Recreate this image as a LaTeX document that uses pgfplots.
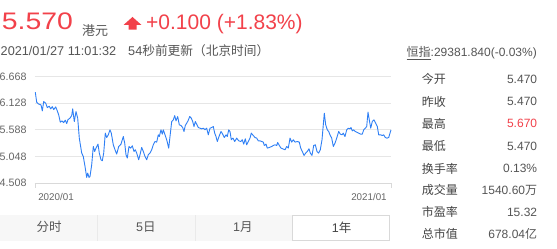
\documentclass[border=0pt]{standalone}
\usepackage{fontspec}
\setmainfont{Liberation Sans}
\newfontfamily\cjk{Noto Sans CJK SC}
\usepackage{graphicx}
\usepackage{pgfplots}
\pgfplotsset{compat=1.18}
\definecolor{upred}{HTML}{F2414A}
\definecolor{lineblue}{HTML}{2E7FF5}
\definecolor{txtgray}{HTML}{555555}
\definecolor{lblgray}{HTML}{444444}
\definecolor{tickgray}{HTML}{666666}
\definecolor{gridgray}{HTML}{E6E6E6}
\definecolor{axisgray}{HTML}{D9D9D9}
\definecolor{tabbg}{HTML}{F7F7F7}
\definecolor{tabline}{HTML}{EAEAEA}
\definecolor{tabborder}{HTML}{D9D9D9}
\begin{document}
\begin{tikzpicture}[x=1pt,y=1pt]
\path[use as bounding box, fill=white] (0,0) rectangle (557,249);
% header
\node[anchor=south west, inner sep=0, text=upred, font=\fontsize{24}{24}\selectfont] at (1.7,219) {\resizebox{71pt}{16.7pt}{5.570}};
\node[anchor=west, inner sep=0, text=txtgray, font=\cjk\fontsize{13}{13}\selectfont] at (82,218.5) {港元};
\fill[upred] (123.5,224) -- (132.5,232) -- (141.5,224) -- (136.5,224) -- (136.5,219.3) -- (128.5,219.3) -- (128.5,224) -- cycle;
\node[anchor=base west, inner sep=0, text=upred, font=\fontsize{21}{21}\selectfont] at (146,219) {+0.100 (+1.83\%)};
\node[anchor=base west, inner sep=0, text=txtgray, font=\fontsize{12.7}{13}\selectfont] at (0.5,193) {2021/01/27 11:01:32};
\node[anchor=base west, inner sep=0, text=txtgray, font=\fontsize{12.7}{13}\selectfont] at (128,193) {54{\cjk 秒前更新（北京时间）}};
\node[anchor=base east, inner sep=0, text=txtgray, font=\fontsize{12}{12}\selectfont] at (537,192) {\underline{\cjk 恒指}:29381.840(-0.03\%)};
% table
\foreach \lab/\val/\yy in {今开/5.470/169.7, 昨收/5.470/147.3, 最低/5.470/103, 换手率/0.13\%/80.5, 市盈率/15.32/37}{
  \node[anchor=west, inner sep=0, text=lblgray, font=\cjk\fontsize{12}{12}\selectfont] at (421.7,\yy) {\lab};
  \node[anchor=east, inner sep=0, text=txtgray, font=\fontsize{12}{12}\selectfont] at (537.3,\yy) {\val};
}
\node[anchor=west, inner sep=0, text=lblgray, font=\cjk\fontsize{12}{12}\selectfont] at (421.7,125.3) {最高};
\node[anchor=east, inner sep=0, text=upred, font=\fontsize{12}{12}\selectfont] at (537.3,125.3) {5.670};
\node[anchor=west, inner sep=0, text=lblgray, font=\cjk\fontsize{12}{12}\selectfont] at (421.7,58.8) {成交量};
\node[anchor=east, inner sep=0, text=txtgray, font=\fontsize{12}{12}\selectfont] at (537.3,58.8) {1540.60{\cjk 万}};
\node[anchor=west, inner sep=0, text=lblgray, font=\cjk\fontsize{12}{12}\selectfont] at (421.7,15) {总市值};
\node[anchor=east, inner sep=0, text=txtgray, font=\fontsize{12}{12}\selectfont] at (537.3,15) {678.04{\cjk 亿}};
% tabs
\fill[tabbg] (0,8.3) rectangle (292.7,34);
\draw[tabline, line width=0.8pt] (97.3,8.3) -- (97.3,34);
\draw[tabline, line width=0.8pt] (195,8.3) -- (195,34);
\draw[tabborder, fill=white, line width=0.8pt] (292.7,8.8) rectangle (389.3,33.6);
\node[text=txtgray, inner sep=0, font=\cjk\fontsize{12.5}{12.5}\selectfont] at (49.2,21.7) {分时};
\node[text=txtgray, inner sep=0, font=\fontsize{12.5}{12.5}\selectfont] at (145.8,21.7) {5{\cjk 日}};
\node[text=txtgray, inner sep=0, font=\fontsize{12.5}{12.5}\selectfont] at (242.8,21.7) {1{\cjk 月}};
\node[text=lblgray, inner sep=0, font=\fontsize{12.5}{12.5}\selectfont] at (341.7,21.7) {1{\cjk 年}};
% chart
\begin{axis}[
  at={(35pt,66pt)}, anchor=south west, scale only axis,
  width=356pt, height=106.3pt,
  xmin=35, xmax=391, ymin=4.508, ymax=6.668,
  ytick={4.508,5.048,5.588,6.128,6.668},
  yticklabels={4.508,5.048,5.588,6.128,6.668},
  ymajorgrids, grid style={draw=gridgray, line width=0.8pt},
  axis x line*=bottom, axis y line*=left,
  x axis line style={draw=axisgray, line width=0.8pt, -},
  y axis line style={draw=none},
  ytick style={draw=none},
  xtick={35,391},
  xticklabels={\makebox[0pt][l]{\hspace{3.3pt}2020/01},\makebox[0pt][r]{2021/01\hspace{4.3pt}}},
  xtick style={draw=axisgray, line width=0.8pt},
  major tick length=5pt, tick align=outside,
  xticklabel style={font=\fontsize{9.8}{10}\selectfont, text=tickgray, anchor=north, inner sep=0pt, yshift=-5pt},
  yticklabel style={font=\fontsize{10.7}{11}\selectfont, text=tickgray, anchor=east, inner sep=0pt, xshift=-3.3pt},
  clip=false,
]
\addplot[lineblue, line width=0.9pt, line join=round] coordinates {
(35.3,6.352) (36.7,6.149) (38.3,6.115) (41.0,6.095) (42.3,5.973) (43.7,6.162) (45.7,6.129) (47.3,6.040) (49.3,6.068) (50.7,6.014) (52.3,6.060) (53.7,6.000) (55.7,6.054) (57.3,5.973) (58.7,5.892) (60.3,5.744) (62.0,5.770) (63.7,5.736) (65.3,5.785) (66.7,5.716) (68.0,5.797) (70.0,5.825) (71.7,5.878) (72.7,6.014) (74.3,5.757) (76.0,5.959) (77.7,5.825) (79.3,5.420) (81.7,5.116) (83.3,5.047) (85.0,4.845) (86.7,4.622) (87.7,4.710) (89.0,4.622)
(90.0,4.640) (91.7,4.879) (93.3,5.250) (94.7,5.149) (96.0,5.217) (98.0,5.298) (99.3,5.116) (101.0,4.980) (102.3,4.960) (103.7,5.116) (105.3,5.521) (106.7,5.432) (108.3,5.487) (110.0,5.588) (111.3,5.521) (113.3,5.284) (115.0,5.183) (116.7,5.096) (118.7,5.250) (121.0,5.298) (123.3,5.452) (124.7,5.318) (126.0,5.082) (127.3,5.015) (129.0,5.250) (130.7,5.217) (132.3,5.264) (134.0,5.149) (135.3,5.183) (136.7,5.116) (138.7,4.980) (140.0,5.082) (141.7,5.230) (143.3,5.149) (145.0,5.047) (146.7,4.980) (148.3,5.082)
(150.0,5.116) (151.7,5.183) (153.3,5.284) (155.0,5.351) (156.7,5.339) (158.3,5.487) (159.3,5.452) (161.0,5.588) (162.3,5.501) (163.3,5.588) (165.0,5.487) (166.7,5.386) (168.7,5.217) (170.0,5.452) (171.7,5.757) (173.3,5.791) (174.7,5.878) (176.0,5.770) (177.7,5.858) (179.3,5.690) (181.0,5.676) (182.7,5.635) (184.0,5.554) (185.3,5.676) (186.7,5.724) (188.0,5.770) (189.7,5.858) (191.3,5.825) (192.7,5.757) (194.0,5.655) (195.3,5.757) (196.7,5.704) (198.3,5.635) (200.0,5.622) (201.7,5.608) (203.3,5.622) (205.0,5.588) (206.7,5.622) (208.3,5.487)
(210.0,5.622) (211.7,5.635) (213.3,5.655) (214.7,5.521) (216.0,5.452) (217.3,5.351) (219.0,5.452) (221.0,5.554) (222.7,5.501) (224.3,5.432) (226.0,5.487) (227.3,5.452) (228.7,5.588) (230.0,5.554) (231.3,5.386) (233.0,5.420) (234.7,5.351) (236.7,5.420) (238.7,5.365) (240.7,5.351) (242.3,5.386) (243.7,5.298) (245.3,5.406) (246.7,5.284) (248.3,5.351) (250.0,5.420) (251.3,5.521) (253.3,5.473) (255.0,5.432) (256.7,5.420) (258.3,5.365) (260.0,5.365) (261.7,5.351) (263.3,5.339) (264.3,5.270) (266.0,5.298) (267.3,5.217) (269.3,5.230)
(271.7,5.250) (273.3,5.270) (275.0,5.284) (276.7,5.270) (277.7,5.331) (279.3,5.270) (281.0,5.217) (282.7,5.203) (285.0,5.183) (286.7,5.250) (288.3,5.217) (290.0,5.420) (291.7,5.339) (293.3,5.386) (295.0,5.339) (297.3,5.351) (299.3,5.339) (300.7,5.217) (302.3,5.149) (304.0,5.068) (305.7,5.116) (307.3,5.149) (309.0,5.203) (310.3,5.116) (312.0,5.068) (313.7,5.270) (315.3,5.284) (317.0,5.149) (318.7,5.116) (320.3,5.183) (322.0,5.386) (323.3,5.690) (324.3,5.926) (325.7,5.690) (327.3,5.588) (328.7,5.554)
(330.0,5.487) (331.7,5.420) (333.3,5.250) (335.0,5.318) (336.7,5.420) (338.7,5.554) (340.3,5.501) (342.0,5.487) (343.3,5.521) (345.0,5.452) (346.7,5.588) (348.3,5.622) (350.0,5.608) (351.0,5.635) (352.3,5.568) (353.7,5.588) (355.3,5.554) (356.7,5.541) (358.7,5.521) (360.7,5.501) (362.3,5.501) (363.7,5.588) (365.3,5.622) (366.7,5.655) (368.0,5.947) (369.3,5.791) (370.7,5.622) (372.3,5.757) (374.0,5.791) (375.7,5.724) (377.3,5.655) (378.7,5.487) (380.7,5.487) (382.3,5.473) (383.7,5.487) (385.3,5.432) (387.0,5.420) (388.7,5.432) (390.0,5.521) (391.0,5.588)
};
\end{axis}
\end{tikzpicture}
\end{document}
